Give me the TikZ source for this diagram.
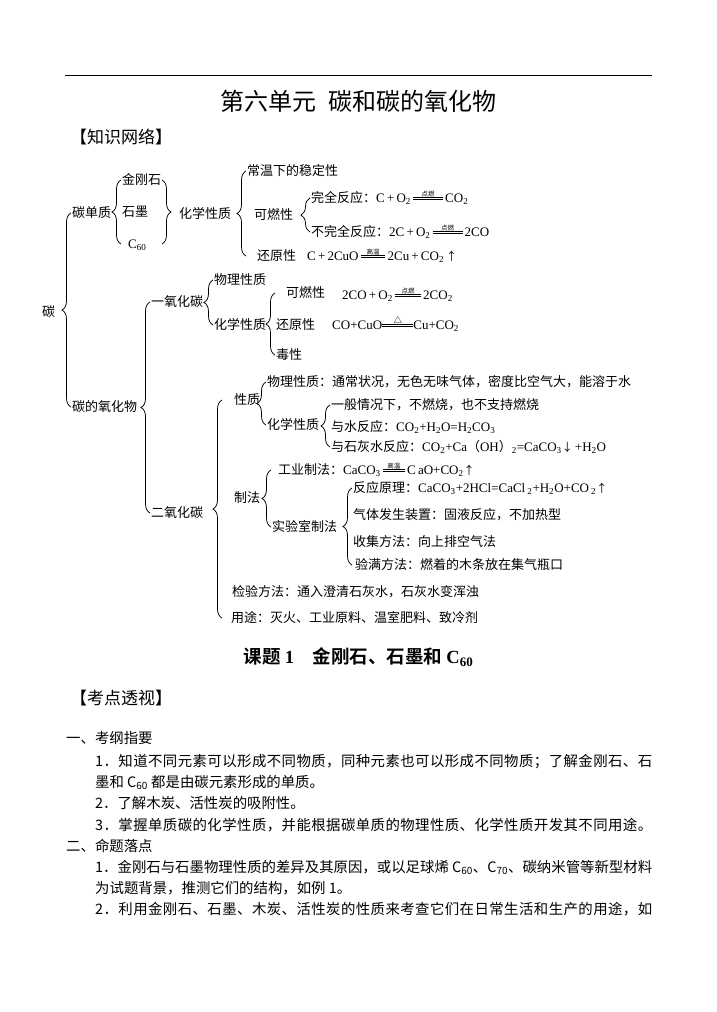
\documentclass[tikz,border=0pt]{standalone}
\usepackage{fontspec}
\setmainfont{Noto Sans CJK SC}[BoldFont={Noto Sans CJK SC Bold}]
\newfontfamily\fm{Liberation Serif}
\usetikzlibrary{decorations.pathreplacing,positioning}
\newcommand\dfont{\fontsize{13}{15}\selectfont}
\newcommand\bfont{\fontsize{14.4}{17}\selectfont}
\newcommand\sbs[1]{\textsubscript{#1}}
\newcommand\up{{\fontsize{11}{11}\selectfont ↑}}
\newcommand\dn{{\fontsize{11}{11}\selectfont ↓}}
\newcommand\eqc[2]{\mbox{\vbox{\hbox to #1{\hss{\rmfamily\fontsize{6.5}{6.5}\selectfont #2}\hss}\kern.6pt
  \hrule width #1 height .5pt\kern1.4pt\hrule width #1 height .5pt\kern3.2pt}}}
\makeatletter
\newcommand\fline[1]{\makebox[557pt][s]{\@tfor\fitem:=#1\do{\fitem\hskip0pt plus1fil}\unskip}}
\makeatother
\tikzset{
  lab/.style  ={anchor=west,inner sep=1pt,font=\dfont,text height=11.4pt,text depth=1.6pt},
  body/.style ={anchor=west,inner sep=0pt,font=\bfont,text height=12.6pt,text depth=1.7pt},
  sect/.style ={anchor=west,inner sep=0pt,font=\fontsize{17}{20}\selectfont},
  brc/.style  ={decorate,decoration={brace,amplitude=9pt},line width=0.75pt},
}
\begin{document}
\begin{tikzpicture}[x=1pt,y=-1pt]
  \useasboundingbox (0,0) rectangle (717,1012);
  \coordinate (rl) at (65,75); \coordinate (rr) at (652,75);
  \draw[line width=0.9pt] (rl) -- (rr);
  \node[inner sep=0pt,font=\fontsize{24}{28}\selectfont] (title) at (358,101) {第六单元\hspace{0.5em}碳和碳的氧化物};
  \node[sect] (zswl) at (70,137) {【知识网络】};
  % carbon
  \node[lab] (tan) at (41,312) {碳};
  \node[lab] (tdz) at (71,213) {碳单质};      \node[lab] (tyhw) at (71,407) {碳的氧化物};
  \node[lab] (jgs) at (121,180) {金刚石};     \node[lab] (sm) at (121,212) {石墨};
  \node[lab] (c60) at (127,244) {\fm C\sbs{60}};
  \node[lab] (hxxz) at (178,214) {化学性质};
  \node[lab] (wdx) at (246,171) {常温下的稳定性};
  \node[lab] (krx) at (253,215) {可燃性};
  \node[lab] (wq) at (310,198) {完全反应：{\fm C\,+\,O\sbs2\,\eqc{2.3em}{点燃}\,CO\sbs2}};
  \node[lab] (bwq) at (310,232) {不完全反应：{\fm 2C\,+\,O\sbs2\,\eqc{2.3em}{点燃}\,2CO}};
  \node[lab] (hyx) at (256,256) {还原性};
  \node[lab] (hyfm) at (306,256) {{\fm C\,+\,2CuO\,\eqc{1.9em}{高温}\,2Cu\,+\,CO\sbs2}\,\up};
  % CO
  \node[lab] (co) at (150,302) {一氧化碳};
  \node[lab] (cowl) at (213,280) {物理性质};   \node[lab] (cohx) at (213,325) {化学性质};
  \node[lab] (cokr) at (285,293) {可燃性};
  \node[lab] (cokrfm) at (341,295) {\fm 2CO\,+\,O\sbs2\,\eqc{2em}{点燃}\,2CO\sbs2};
  \node[lab] (cohy) at (275,325) {还原性};
  \node[lab] (cohyfm) at (331,325) {\fm CO+CuO\eqc{2.4em}{\fontsize{8.5}{8.5}\selectfont\bfseries △}Cu+CO\sbs2};
  \node[lab] (cods) at (275,355) {毒性};
  % CO2
  \node[lab] (co2) at (150,513) {二氧化碳};
  \node[lab] (xz) at (233,400) {性质};
  \node[lab] (wlxz) at (266,382) {物理性质：通常状况，无色无味气体，密度比空气大，能溶于水};
  \node[lab] (hxxz2) at (266,425) {化学性质};
  \node[lab] (ybqk) at (330,405) {一般情况下，不燃烧，也不支持燃烧};
  \node[lab] (ysfy) at (330,427) {与水反应：{\fm CO\sbs2+H\sbs2O=H\sbs2CO\sbs3}};
  \node[lab] (yshs) at (330,447) {与石灰水反应：{\fm CO\sbs2+Ca}（{\fm OH}）{\fm\sbs2=CaCO\sbs3}\dn{\fm\,+H\sbs2O}};
  \node[lab] (zf) at (233,498) {制法};
  \node[lab] (gyzf) at (277,470) {工业制法：{\fm CaCO\sbs3\,\eqc{1.7em}{高温}\,C\,aO+CO\sbs2}\up};
  \node[lab] (sysz) at (271,527) {实验室制法};
  \node[lab] (fyyl) at (352,488) {反应原理：{\fm CaCO\sbs3+2HCl=CaCl\,\sbs2+H\sbs2O+CO\,\sbs2}\up};
  \node[lab] (qtfs) at (352,515) {气体发生装置：固液反应，不加热型};
  \node[lab] (sjff) at (352,542) {收集方法：向上排空气法};
  \node[lab] (ymff) at (354,565) {验满方法：燃着的木条放在集气瓶口};
  \node[lab] (jyff) at (231,592) {检验方法：通入澄清石灰水，石灰水变浑浊};
  \node[lab] (yt) at (230,618) {用途：灭火、工业原料、温室肥料、致冷剂};
  % braces
  \coordinate (rb) at (162,0); \coordinate (b2) at (222,0);
  \draw[brc] (tyhw.west) -- (tdz.west);
  \draw[brc] (c60.west -| jgs.west) -- (jgs.west);
  \draw[brc] (jgs -| rb) -- (c60 -| rb);
  \draw[brc] (hyx.west -| wdx.west) -- (wdx.west);
  \draw[brc] (bwq.west) -- (wq.west);
  \draw[brc] (co2.west) -- (co.west);
  \draw[brc] (cohx.west) -- (cowl.west);
  \draw[brc] (cods.west) -- (cods.west |- cokr.west);
  \draw[brc] (yt -| b2) -- (xz -| b2);
  \draw[brc] (hxxz2.west) -- (wlxz.west);
  \draw[brc] (yshs.west) -- (ybqk.west);
  \draw[brc] (sysz.west) -- (sysz.west |- gyzf.west);
  \draw[brc] (ymff.west -| fyyl.west) -- (fyyl.west);
  % lesson
  \node[inner sep=0pt,font=\fontsize{18.5}{21}\selectfont\bfseries] (kt) at (358.5,657) {课题 {\fm 1}\hspace{1em}金刚石、石墨和 {\fm C\sbs{60}}};
  \node[sect] (kdts) at (70,698) {【考点透视】};
  \node[body] (kg) at (66,738) {一、考纲指要};
  \node[body] (kg1) at (95,761) {\fline{1．知道不同元素可以形成不同物质，同种元素也可以形成不同物质；了解金刚石、石}};
  \node[body] (kg1b) at (95,782) {墨和 C\sbs{60} 都是由碳元素形成的单质。};
  \node[body] (kg2) at (95,803) {2．了解木炭、活性炭的吸附性。};
  \node[body] (kg3) at (95,825) {\fline{3．掌握单质碳的化学性质，并能根据碳单质的物理性质、化学性质开发其不同用途。}};
  \node[body] (mt) at (66,846) {二、命题落点};
  \node[body] (mt1) at (95,867) {\fline{1．金刚石与石墨物理性质的差异及其原因，或以足球烯{ C\sbs{60}}、{C\sbs{70}}、碳纳米管等新型材料}};
  \node[body] (mt1b) at (95,888) {为试题背景，推测它们的结构，如例 1。};
  \node[body] (mt2) at (95,909) {\fline{2．利用金刚石、石墨、木炭、活性炭的性质来考查它们在日常生活和生产的用途，如}};
\end{tikzpicture}
\end{document}
